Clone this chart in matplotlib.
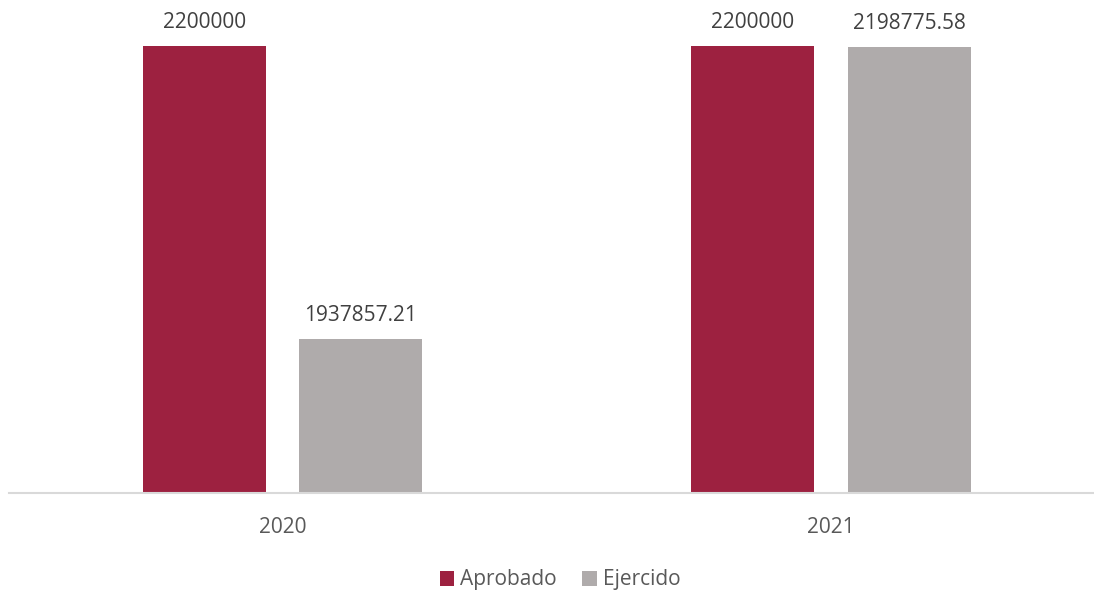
import numpy as np
import matplotlib.pyplot as plt
import matplotlib as mpl

mpl.rcParams['font.family'] = ['Open Sans', 'DejaVu Sans']
mpl.rcParams['font.size'] = 15

# Datos
anios = ['2020', '2021']
aprobado = [2200000, 2200000]
ejercido = [1937857.21, 2198775.58]
etiquetas_aprobado = ['2200000', '2200000']
etiquetas_ejercido = ['1937857.21', '2198775.58']

fig = plt.figure(figsize=(10.94, 5.91), dpi=100)
ax = fig.add_axes([9 / 1094, 98 / 591, 1084 / 1094, 493 / 591])

x = np.arange(len(anios))
ancho = 0.224
desp = 0.1425

b1 = ax.bar(x - desp, aprobado, ancho, color='#9D2140', label='Aprobado')
b2 = ax.bar(x + desp, ejercido, ancho, color='#AFABAB', label='Ejercido')

# Etiquetas de valores sobre las barras
for barras, textos in [(b1, etiquetas_aprobado), (b2, etiquetas_ejercido)]:
    for b, t in zip(barras, textos):
        ax.annotate(t, (b.get_x() + b.get_width() / 2, b.get_height()),
                    xytext=(0, 13), textcoords='offset points',
                    ha='center', va='baseline', color='#404040', fontsize=15)

ax.set_ylim(1800000, 2241000)
ax.set_xlim(-0.4986, 1.4777)
ax.set_xticks(x)
ax.set_xticklabels(anios, color='#595959')
ax.tick_params(axis='x', length=0, pad=17)
ax.set_yticks([])

for s in ['top', 'right', 'left']:
    ax.spines[s].set_visible(False)
ax.spines['bottom'].set_color('#D9D9D9')
ax.spines['bottom'].set_linewidth(1.5)

leg = fig.legend(loc='center', bbox_to_anchor=(560 / 1094, 11 / 591), ncol=2,
                 frameon=False, handlelength=0.7, handleheight=0.7,
                 handletextpad=0.3, columnspacing=1.2, fontsize=15)
for t in leg.get_texts():
    t.set_color('#595959')

plt.savefig('out.png', dpi=100)
